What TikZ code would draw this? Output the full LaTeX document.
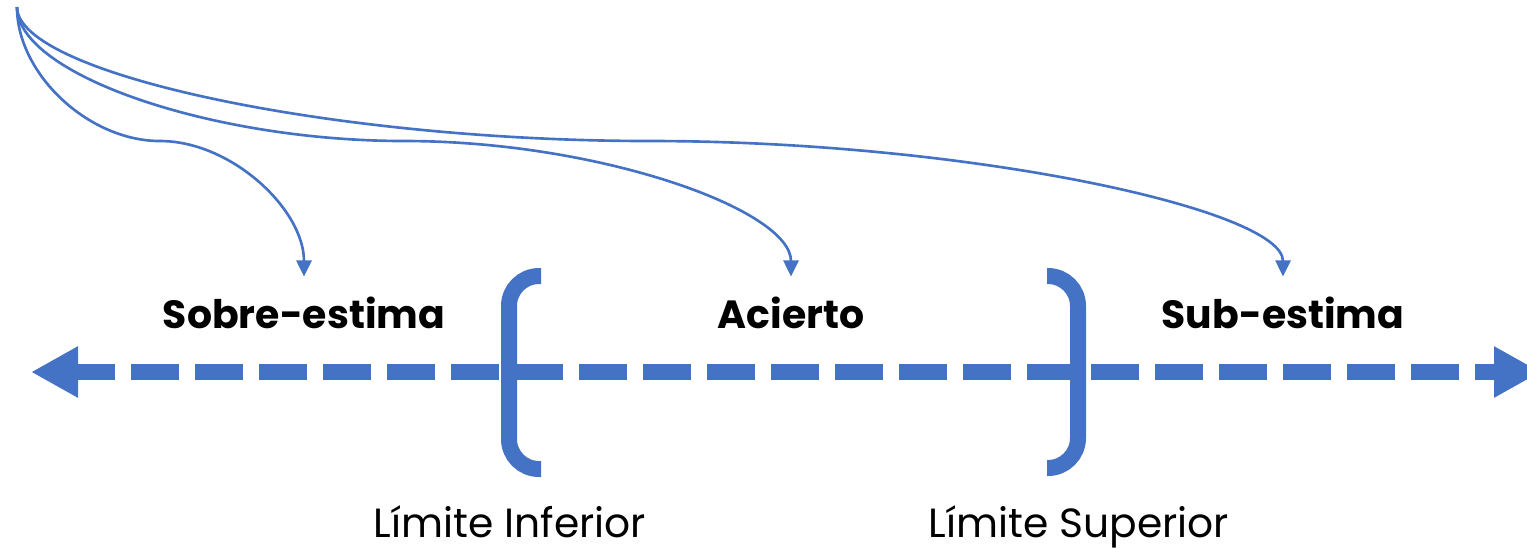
\documentclass[tikz,border=0pt]{standalone}
\usepackage{fontspec}
\setmainfont{Poppins}
\usetikzlibrary{arrows.meta}
\definecolor{azul}{HTML}{4472C4}

\begin{document}
\begin{tikzpicture}[
    etiqueta/.style={font=\fontsize{11.2}{14}\selectfont\bfseries, inner sep=0pt, outer sep=0.2cm},
    limite/.style={font=\fontsize{11.6}{14}\selectfont, inner sep=0pt},
    corchete/.style={azul, line width=0.16cm, rounded corners=0.3cm},
    flecha/.style={azul, line width=0.75pt, -{Triangle[length=0.16cm,width=0.15cm]}}
]
    \useasboundingbox (0,0) rectangle (15.27,-5.47);
    % Eje
    \coordinate (izq) at (0.31,-3.72);
    \coordinate (der) at (15.41,-3.72);
    \draw[azul, line width=0.16cm, dash pattern=on 0.48cm off 0.16cm, dash phase=0.08cm,
        {Triangle[length=0.47cm,width=0.48cm]}-{Triangle[length=0.47cm,width=0.48cm]}] (izq) -- (der);
    % Corchetes
    \draw[corchete] (5.41,-2.76) -- (5.09,-2.76) -- (5.09,-4.69) -- (5.41,-4.69);
    \draw[corchete] (10.47,-2.76) -- (10.78,-2.76) -- (10.78,-4.68) -- (10.47,-4.68);
    % Etiquetas
    \node[etiqueta, anchor=base] (sobre) at (3.04,-3.28) {Sobre-estima};
    \node[etiqueta, anchor=base] (acierto) at (7.91,-3.28) {Acierto};
    \node[etiqueta, anchor=base] (sub) at (12.83,-3.28) {Sub-estima};
    \node[limite, anchor=base] (liminf) at (5.10,-5.37) {Límite Inferior};
    \node[limite, anchor=base] (limsup) at (10.79,-5.37) {Límite Superior};
    % Curvas
    \coordinate (origen) at (0.17,-0.07);
    \draw[flecha] (origen) .. controls +(0,-0.67) and +(-0.715,0) .. (1.60,-1.41)
        .. controls +(0.715,0) and +(0,0.67) .. (sobre.north);
    \draw[flecha] (origen) .. controls +(0,-0.67) and +(-1.9375,0) .. (4.045,-1.41)
        .. controls +(1.9375,0) and +(0,0.67) .. (acierto.north);
    \draw[flecha] (origen) .. controls +(0,-0.67) and +(-3.165,0) .. (6.50,-1.41)
        .. controls +(3.165,0) and +(0,0.67) .. (sub.north);
\end{tikzpicture}
\end{document}
